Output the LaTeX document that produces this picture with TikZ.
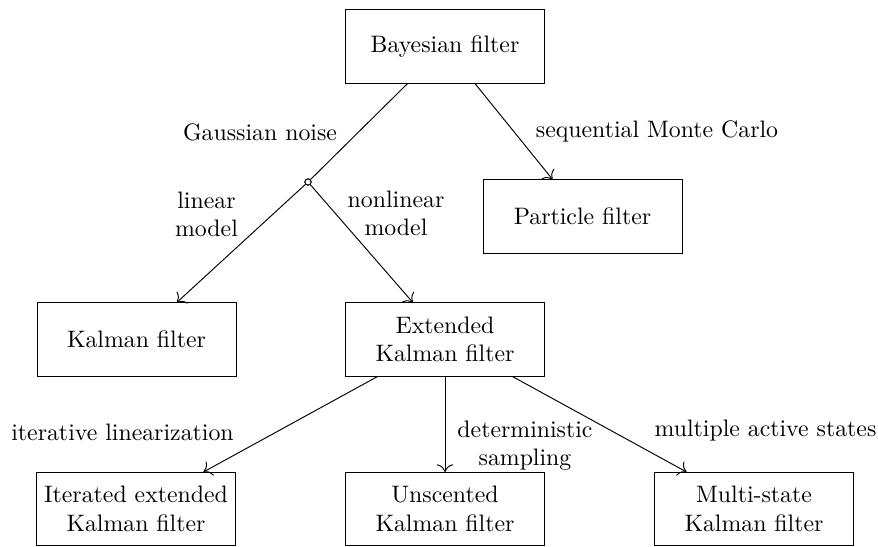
\documentclass[tikz,border=0pt]{standalone}
\usetikzlibrary{arrows.meta}
\begin{document}
\begin{tikzpicture}[x=0.42pt,y=-0.42pt,
  box/.style={draw, minimum width=83.6pt, minimum height=30.7pt, align=center, inner sep=0pt},
  lbl/.style={align=center, inner sep=0pt},
  dot/.style={circle, draw, fill=white, inner sep=0pt, minimum size=2.6pt},
  >={To[scale=1.3]}]
\useasboundingbox (0,0) rectangle (878,547);

% filters
\node[box] (bayes)    at (445,46.5)  {Bayesian filter};
\node[box] (particle) at (582.5,216.5) {Particle filter};
\node[box] (kf)       at (136.5,339.5) {Kalman filter};
\node[box] (ekf)      at (445,339.5) {Extended\\Kalman filter};
\node[box] (iekf)     at (136,509)   {Iterated extended\\Kalman filter};
\node[box] (ukf)      at (445,509)   {Unscented\\Kalman filter};
\node[box] (mskf)     at (754,509)   {Multi-state\\Kalman filter};

% branching point under the Gaussian noise assumption
\node[dot] (split) at (308,182) {};

% connectors
\draw (bayes) -- (split);
\draw[->] (bayes) -- (particle);
\draw[->] (split) -- (kf);
\draw[->] (split) -- (ekf);
\draw[->] (ekf) -- (iekf);
\draw[->] (ekf) -- (ukf);
\draw[->] (ekf) -- (mskf);
\node[dot] at (split) {};

% branch labels
\node[lbl, anchor=base]  (lgauss) at (260,141)   {Gaussian noise};
\node[lbl, anchor=base]  (lsmc)   at (657,137)   {sequential Monte Carlo};
\node[lbl, anchor=north] (llin)   at (206.5,191) {linear\\model};
\node[lbl, anchor=north] (lnonl)  at (396,190) {nonlinear\\model};
\node[lbl, anchor=base]  (liter)  at (122.5,440) {iterative linearization};
\node[lbl, anchor=north] (ldet)   at (525,420) {deterministic\\sampling};
\node[lbl, anchor=base]  (lmulti) at (765.5,436) {multiple active states};
\end{tikzpicture}
\end{document}
